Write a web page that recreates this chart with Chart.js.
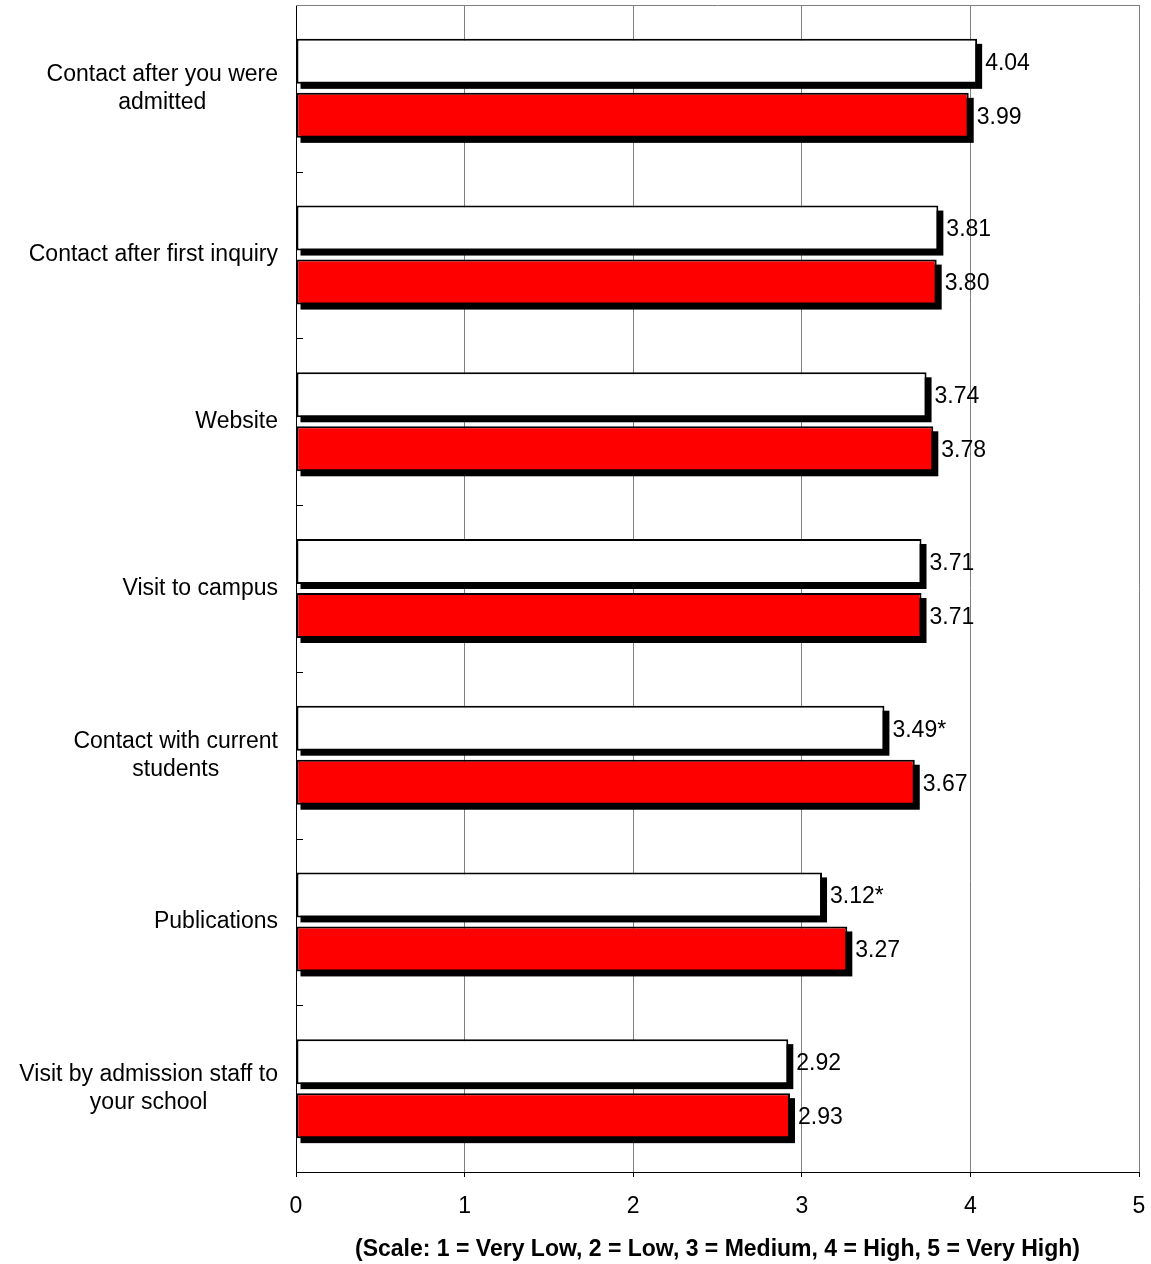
<!DOCTYPE html>
<html>
<head>
<meta charset="utf-8">
<script src="https://cdn.jsdelivr.net/npm/chart.js@4"></script>
<style>
  html, body { margin: 0; padding: 0; background: #fff; }
  #wrap { width: 1151px; height: 1264px; }
</style>
</head>
<body>
<div id="wrap"><canvas id="myChart"></canvas></div>
<script>
const categories = [
  ['Contact after you were', 'admitted'],
  ['Contact after first inquiry'],
  ['Website'],
  ['Visit to campus'],
  ['Contact with current', 'students'],
  ['Publications'],
  ['Visit by admission staff to', 'your school']
];
const whiteValues = [4.04, 3.81, 3.74, 3.71, 3.49, 3.12, 2.92];
const redValues = [3.99, 3.80, 3.78, 3.71, 3.67, 3.27, 2.93];
const whiteLabels = ['4.04', '3.81', '3.74', '3.71', '3.49*', '3.12*', '2.92'];
const redLabels = ['3.99', '3.80', '3.78', '3.71', '3.67', '3.27', '2.93'];
const xTicks = [0, 1, 2, 3, 4, 5];

const FONT = 'Liberation Sans, Arial, sans-serif';
const FS = 23;

// black drop shadow behind each bar, value text, category labels
const barExtras = {
  id: 'barExtras',
  beforeDatasetsDraw(chart) {
    const ctx = chart.ctx;
    ctx.save();
    ctx.fillStyle = '#000';
    chart.data.datasets.forEach((ds, i) => {
      chart.getDatasetMeta(i).data.forEach(bar => {
        const h = bar.height;
        ctx.fillRect(bar.base + 4, bar.y - h / 2 + 5, bar.x - bar.base + 1, h);
      });
    });
    ctx.restore();
  },
  afterDatasetsDraw(chart) {
    const ctx = chart.ctx;
    const labelSets = [whiteLabels, redLabels];
    ctx.save();
    ctx.fillStyle = '#000';
    ctx.font = FS + 'px ' + FONT;
    ctx.textBaseline = 'middle';
    ctx.textAlign = 'left';
    chart.data.datasets.forEach((ds, i) => {
      chart.getDatasetMeta(i).data.forEach((bar, j) => {
        ctx.fillText(labelSets[i][j], bar.x + 8, bar.y + 2);
      });
    });
    ctx.restore();
  },
  afterDraw(chart) {
    const ctx = chart.ctx;
    const a = chart.chartArea;
    const y = chart.scales.y;
    ctx.save();
    // top border
    ctx.strokeStyle = '#808080';
    ctx.lineWidth = 1;
    ctx.beginPath();
    ctx.moveTo(a.left, a.top + 0.5);
    ctx.lineTo(a.right, a.top + 0.5);
    ctx.stroke();
    // small category-boundary ticks inside the plot
    ctx.strokeStyle = '#000';
    const band = (a.bottom - a.top) / categories.length;
    for (let i = 1; i < categories.length; i++) {
      const py = Math.round(y.getPixelForValue(i) - band / 2) + 0.5;
      ctx.beginPath();
      ctx.moveTo(a.left, py);
      ctx.lineTo(a.left + 7, py);
      ctx.stroke();
    }
    // category labels: block right-aligned to the axis, lines centred
    ctx.fillStyle = '#000';
    ctx.font = FS + 'px ' + FONT;
    ctx.textBaseline = 'middle';
    ctx.textAlign = 'center';
    const lh = 28;
    categories.forEach((lines, i) => {
      const cy = y.getPixelForValue(i);
      const w = Math.max(...lines.map(s => ctx.measureText(s).width));
      const cx = a.left - 18 - w / 2;
      lines.forEach((s, k) => {
        ctx.fillText(s, cx, cy + (k - (lines.length - 1) / 2) * lh);
      });
    });
    ctx.restore();
  }
};

new Chart(document.getElementById('myChart'), {
  type: 'bar',
  data: {
    labels: categories,
    datasets: [{
      data: whiteValues,
      backgroundColor: '#ffffff',
      borderColor: '#000000',
      borderWidth: 2,
      borderSkipped: false,
      categoryPercentage: 0.648,
      barPercentage: 0.833
    }, {
      data: redValues,
      backgroundColor: '#ff0000',
      borderColor: '#000000',
      borderWidth: 2,
      borderSkipped: false,
      categoryPercentage: 0.648,
      barPercentage: 0.833
    }]
  },
  options: {
    indexAxis: 'y',
    responsive: true,
    maintainAspectRatio: false,
    animation: false,
    layout: { padding: { top: 5, right: 12, bottom: 0, left: 0 } },
    plugins: {
      legend: { display: false },
      tooltip: { enabled: false }
    },
    scales: {
      x: {
        min: 0,
        max: 5,
        afterBuildTicks(scale) {
          scale.ticks = xTicks.map(v => ({ value: v }));
        },
        afterFit(scale) {
          scale.height = 92;
          scale.paddingLeft = 0;
          scale.paddingRight = 0;
        },
        grid: {
          color: c => (c.tick && c.tick.value === 0) ? '#000' : '#808080',
          tickColor: '#000',
          tickLength: 5,
          lineWidth: 1
        },
        border: { color: '#000', width: 1 },
        ticks: {
          color: '#000',
          font: { family: FONT, size: FS },
          padding: 16
        },
        title: {
          display: true,
          text: '(Scale: 1 = Very Low, 2 = Low, 3 = Medium, 4 = High, 5 = Very High)',
          color: '#000',
          font: { family: FONT, size: FS, weight: 'bold' },
          padding: { top: 4, bottom: 1 }
        }
      },
      y: {
        afterFit(scale) {
          scale.width = 296;
          scale.paddingTop = 0;
          scale.paddingBottom = 0;
        },
        grid: { display: false, drawTicks: false },
        border: { color: '#000', width: 1 },
        ticks: { display: false }
      }
    }
  },
  plugins: [barExtras]
});
</script>
</body>
</html>
